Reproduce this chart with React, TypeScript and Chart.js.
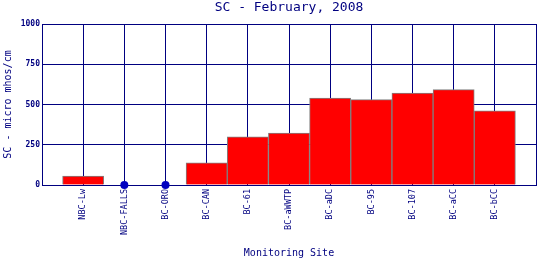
import React, { useEffect, useRef } from "react";
import { Chart, registerables } from "chart.js";

Chart.register(...registerables);

const categories = ["NBC-Lw", "NBC-FALLS", "BC-ORO", "BC-CAN", "BC-61", "BC-aWWTP", "BC-aDC", "BC-95", "BC-107", "BC-aCC", "BC-bCC"];
const scValues: (number | null)[] = [56, null, null, 137, 299, 322, 540, 530, 571, 592, 461];
const missingSites = ["NBC-FALLS", "BC-ORO"];
const yTicks = [0, 250, 500, 750, 1000];
const chartTitle = "SC - February, 2008";

const NAVY = "#000080";
const MONO = "'DejaVu Sans Mono', 'Liberation Mono', monospace";

export default function App() {
  const ref = useRef<HTMLCanvasElement | null>(null);
  useEffect(() => {
    if (!ref.current) return;
    const barData = scValues.map((v, i) => ({ x: i + 1, y: v }));
    const dotData = missingSites.map((s) => ({ x: categories.indexOf(s) + 1, y: 0 }));
    const chart = new Chart(ref.current, {
      type: "bar",
      data: {
        datasets: [
          {
            type: "bar",
            xAxisID: "x",
            yAxisID: "y",
            data: barData as any,
            backgroundColor: "#ff0000",
            borderColor: "#808080",
            borderWidth: 1,
            barPercentage: 1,
            categoryPercentage: 1,
            order: 2,
          },
          {
            type: "line",
            xAxisID: "x",
            yAxisID: "y",
            data: dotData as any,
            showLine: false,
            pointRadius: 4,
            pointBackgroundColor: "#0000c0",
            pointBorderColor: "#0000c0",
            pointBorderWidth: 0,
            order: 1,
            clip: false as any,
          },
        ],
      },
      options: {
        animation: false,
        responsive: false,
        maintainAspectRatio: false,
        layout: { padding: { left: 0, right: 4, top: 0, bottom: 0 } },
        plugins: {
          legend: { display: false },
          tooltip: { enabled: false },
          title: { display: false },
        },
        scales: {
          x: {
            type: "linear",
            min: 0,
            max: 12,
            offset: false,
            afterFit: (s: any) => {
              s.height = 75;
              s.paddingLeft = 0;
              s.paddingRight = 0;
            },
            afterBuildTicks: (s: any) => {
              s.ticks = Array.from({ length: 13 }, (_, i) => ({ value: i }));
            },
            grid: { color: NAVY, lineWidth: 1, tickLength: 0, drawTicks: false, offset: false },
            border: { color: NAVY, width: 1 },
            ticks: {
              autoSkip: false,
              maxRotation: 90,
              minRotation: 90,
              padding: 4,
              color: NAVY,
              font: { family: MONO, size: 8.5 },
              callback: (v: any) => {
                const i = Math.round(Number(v)) - 1;
                return i >= 0 && i < categories.length ? categories[i] : "";
              },
            },
            title: {
              display: true,
              text: "Monitoring Site",
              color: NAVY,
              font: { family: MONO, size: 10, lineHeight: 1.2 },
              padding: { top: 0, bottom: 1 },
            },
          },
          y: {
            type: "linear",
            min: 0,
            max: 1000,
            afterFit: (s: any) => { s.width = 42; },
            afterBuildTicks: (s: any) => {
              s.ticks = yTicks.map((v) => ({ value: v }));
            },
            grid: { color: NAVY, lineWidth: 1, drawTicks: false, tickLength: 0 },
            border: { color: NAVY, width: 1 },
            ticks: {
              padding: 2,
              color: NAVY,
              font: { family: MONO, size: 8, weight: "bold" },
              callback: (v: any) => String(v),
            },
            title: {
              display: true,
              text: "SC - micro mhos/cm",
              color: NAVY,
              font: { family: MONO, size: 10, lineHeight: 1.2 },
              padding: { top: 2, bottom: 0 },
            },
          },
          titleAxis: {
            type: "linear",
            axis: "x",
            position: "top",
            min: 0,
            max: 12,
            afterFit: (s: any) => {
              s.height = 24;
              s.paddingLeft = 0;
              s.paddingRight = 0;
            },
            grid: { display: false, drawTicks: false },
            border: { display: false },
            ticks: { display: false },
            title: {
              display: true,
              text: chartTitle,
              color: NAVY,
              font: { family: MONO, size: 13, weight: "normal", lineHeight: 1.2 },
              padding: { top: 0, bottom: 0 },
            },
          },
        },
      },
    } as any);
    return () => chart.destroy();
  }, []);
  return (
    <div style={{ position: "fixed", left: 0, top: 0, width: 540, height: 260, background: "#fff" }}>
      <canvas ref={ref} width={540} height={260} style={{ display: "block", width: 540, height: 260 }} />
    </div>
  );
}
